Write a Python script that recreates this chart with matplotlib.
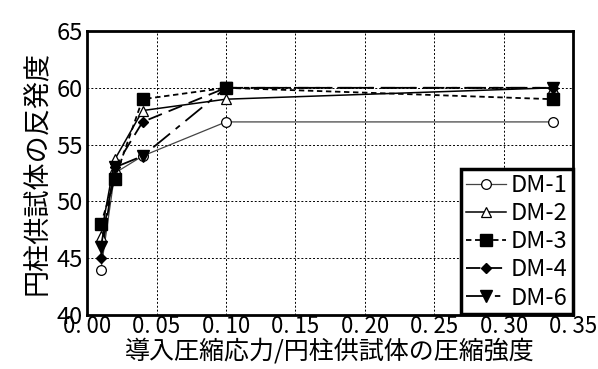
import numpy as np
import matplotlib
matplotlib.use('Agg')
import matplotlib.pyplot as plt

plt.rcParams['font.family'] = ['Noto Sans CJK JP', 'DejaVu Sans']

# data
x = [0.01, 0.02, 0.04, 0.10, 0.335]
dm1 = [44, 52.5, 54, 57, 57]
dm2 = [47, 53.7, 58, 59, 60]
dm3 = [48, 52, 59, 60, 59]
dm4 = [45, 53, 57, 60, 60]
dm6 = [46, 53, 54, 60, 60]
names = ['DM-1', 'DM-2', 'DM-3', 'DM-4', 'DM-6']

xticks = [0.0, 0.05, 0.10, 0.15, 0.20, 0.25, 0.30, 0.35]
xticklabels = ['0. 00', '0. 05', '0. 10', '0. 15', '0. 20', '0. 25', '0. 30', '0. 35']
yticks = [40, 45, 50, 55, 60, 65]

fig = plt.figure(figsize=(5.98, 3.69), dpi=100)
ax = fig.add_axes([0.1455, 0.146, 0.8135, 0.77])

ax.plot(x, dm1, color='#444444', lw=0.9, marker='o', ms=7, mfc='white', mec='black', mew=0.9, label=names[0])
ax.plot(x, dm2, color='black', lw=1.1, marker='^', ms=7, mfc='white', mec='black', mew=0.9, label=names[1])
ax.plot(x, dm3, color='black', lw=1.3, ls=(0, (3, 2)), marker='s', ms=8, mfc='black', mec='black', label=names[2])
ax.plot(x, dm4, color='black', lw=1.3, ls=(0, (8, 4)), marker='D', ms=5, mfc='black', mec='black', label=names[3])
ax.plot(x, dm6, color='black', lw=1.3, ls=(0, (12, 4, 3, 4)), marker='v', ms=8, mfc='black', mec='black', label=names[4])

ax.set_xlim(0, 0.35)
ax.set_ylim(40, 65)
ax.set_xticks(xticks)
ax.set_xticklabels(xticklabels, fontsize=16)
ax.set_yticks(yticks)
ax.tick_params(axis='y', labelsize=17, pad=3)
ax.tick_params(axis='both', length=0)
ax.tick_params(axis='x', pad=0)
ax.grid(True, color='black', ls=(0, (2, 2)), lw=0.7)
for s in ax.spines.values():
    s.set_linewidth(2)

ax.set_xlabel('導入圧縮応力/円柱供試体の圧縮強度', fontsize=18, labelpad=0)
ax.set_ylabel('円柱供試体の反発度', fontsize=19.5, labelpad=4)

leg = ax.legend(loc='lower right', bbox_to_anchor=(0.998, 0.003), frameon=True,
                prop={'size': 17},
                fancybox=False, shadow=False, handlelength=1.7, handletextpad=0.2,
                borderpad=0.2, labelspacing=0.22, borderaxespad=0)
leg.get_frame().set_edgecolor('black')
leg.get_frame().set_linewidth(2.5)
leg.get_frame().set_alpha(1)

fig.savefig('out.png', dpi=100)
plt.close()
